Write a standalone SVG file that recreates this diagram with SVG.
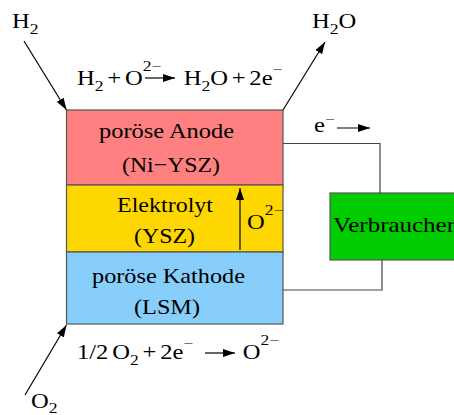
<svg xmlns="http://www.w3.org/2000/svg" width="454" height="415" viewBox="0 0 454 415">
<style>
text{font-family:"Liberation Serif","Times New Roman",serif;font-size:21px;fill:#000}
.lbl{font-size:22px}
.eq{word-spacing:-2px}
.layer{stroke:#555;stroke-width:1.2}
.wire{fill:none;stroke:#444;stroke-width:1.2}
.arr{fill:none;stroke:#000;stroke-width:1.2}
.sub{font-size:15px}
</style>
<defs>
<marker id="ah" viewBox="0 0 12 8" refX="12" refY="4" markerWidth="12" markerHeight="8" markerUnits="userSpaceOnUse" orient="auto">
<path d="M0,0 L12,4 L0,8 Z" fill="#000"/>
</marker>
</defs>
<rect width="454" height="415" fill="#fff"/>
<g id="anode">
<rect class="layer" x="66.5" y="110" width="216.5" height="75" fill="#ff8080"/>
<text class="lbl" x="99" y="138" textLength="135" lengthAdjust="spacingAndGlyphs">poröse Anode</text>
<text class="lbl" x="122" y="172" textLength="98" lengthAdjust="spacingAndGlyphs">(Ni−YSZ)</text>
</g>
<g id="elektrolyt">
<rect class="layer" x="66.5" y="185" width="216.5" height="67" fill="#ffd700"/>
<text class="lbl" x="117" y="212" textLength="96" lengthAdjust="spacingAndGlyphs">Elektrolyt</text>
<text class="lbl" x="134" y="243" textLength="61" lengthAdjust="spacingAndGlyphs">(YSZ)</text>
</g>
<g id="kathode">
<rect class="layer" x="66.5" y="252" width="216.5" height="72" fill="#87cefa"/>
<text class="lbl" x="92" y="283" textLength="153" lengthAdjust="spacingAndGlyphs">poröse Kathode</text>
<text class="lbl" x="134" y="314" textLength="66" lengthAdjust="spacingAndGlyphs">(LSM)</text>
</g>
<g id="verbraucher">
<rect class="layer" x="330" y="193" width="130" height="67" fill="#00cc00"/>
<text class="lbl" x="333" y="232" textLength="122" lengthAdjust="spacingAndGlyphs">Verbraucher</text>
</g>
<g id="connectors">
<path class="wire" d="M283,143.5 H380 V193"/>
<path class="wire" d="M283,290 H382 V260"/>
<line class="arr" x1="24" y1="41" x2="66.5" y2="110" marker-end="url(#ah)"/>
<line class="arr" x1="283" y1="110" x2="325" y2="42" marker-end="url(#ah)"/>
<line class="arr" x1="25" y1="395" x2="66.5" y2="325" marker-end="url(#ah)"/>
<line class="arr" x1="240" y1="250" x2="240" y2="188" marker-end="url(#ah)"/>
<line class="arr" x1="337" y1="128" x2="370" y2="128" marker-end="url(#ah)"/>
<line class="arr" x1="145" y1="78" x2="175" y2="78" marker-end="url(#ah)"/>
<line class="arr" x1="205" y1="353" x2="235" y2="353" marker-end="url(#ah)"/>
</g>
<g id="labels" transform="scale(1.17 1)">
<text x="10.3" y="28">H<tspan class="sub" dy="6">2</tspan></text>
<text x="266.7" y="28">H<tspan class="sub" dy="6">2</tspan><tspan dy="-6">O</tspan></text>
<text x="26.5" y="408">O<tspan class="sub" dy="5">2</tspan></text>
<text x="268.4" y="132">e<tspan class="sub" dy="-8">−</tspan></text>
<text x="211.1" y="229">O<tspan class="sub" dy="-14">2−</tspan></text>
<text class="eq" x="65.8" y="85">H<tspan class="sub" dy="6">2</tspan><tspan dy="-6"> + O</tspan><tspan class="sub" dy="-14">2−</tspan></text>
<text class="eq" x="157" y="85">H<tspan class="sub" dy="6">2</tspan><tspan dy="-6">O + 2e</tspan><tspan class="sub" dy="-11">−</tspan></text>
<text class="eq" x="65.8" y="359">1/2 O<tspan class="sub" dy="6">2</tspan><tspan dy="-6"> + 2e</tspan><tspan class="sub" dy="-11">−</tspan></text>
<text x="207.5" y="359">O<tspan class="sub" dy="-14">2−</tspan></text>
</g>
</svg>
